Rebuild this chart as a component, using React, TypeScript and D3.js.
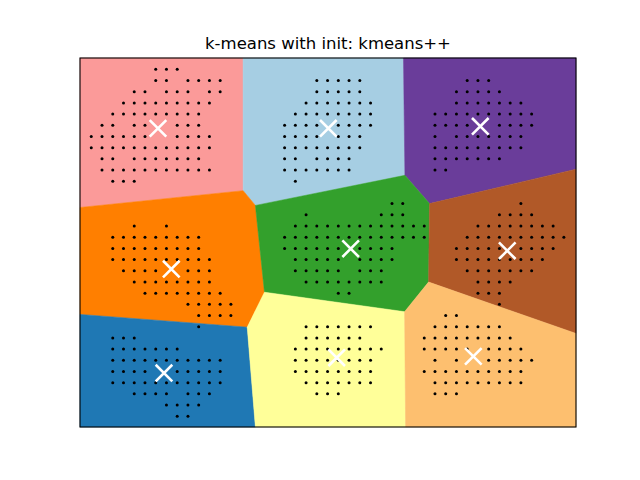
import React, { useRef, useEffect } from "react";
import * as d3 from "d3";

/* Cluster centres (x, y in data units) and the Paired colour of each region */
const centroidX = [6.21, 22.07, 36.22, 7.45, 24.15, 38.73, 6.77, 22.85, 35.57];
const centroidY = [5.28, 5.27, 5.09, 17.85, 16.03, 16.21, 27.14, 25.77, 25.65];
const regionColors = [
  "#fb9a99",
  "#a6cee3",
  "#6a3d9a",
  "#ff7f00",
  "#33a02c",
  "#b15928",
  "#1f78b4",
  "#ffff99",
  "#fdbf6f",
];

/* Reduced data points: for each row (y value) the x values that hold a point */
const dotRowY = [
  0, 1, 2, 3, 4, 5, 6, 7, 8, 9, 10, 12, 13, 14, 15, 16, 17, 18, 19, 20, 21, 22,
  23, 24, 25, 26, 27, 28, 29, 30, 31,
];
const dotRowX = [
  [6, 7, 8],
  [6, 7, 9, 10, 11, 12, 21, 22, 23, 24, 25, 35, 36, 37],
  [4, 5, 7, 8, 9, 11, 12, 21, 22, 23, 24, 25, 34, 35, 36, 37, 38],
  [3, 4, 5, 6, 7, 8, 9, 10, 11, 20, 21, 22, 23, 24, 25, 26, 34, 35, 36, 37, 38, 39, 40],
  [2, 3, 4, 5, 6, 7, 8, 9, 10, 19, 20, 21, 22, 23, 24, 25, 26, 32, 33, 34, 35, 36, 37, 38, 39, 40, 41],
  [1, 2, 4, 5, 8, 9, 10, 18, 19, 20, 21, 23, 24, 25, 26, 32, 33, 34, 35, 38, 39, 40, 41],
  [0, 1, 2, 3, 4, 5, 8, 9, 10, 11, 18, 19, 20, 21, 23, 24, 25, 32, 34, 35, 36, 37, 38, 39, 40],
  [0, 1, 2, 3, 4, 5, 6, 7, 8, 9, 10, 11, 18, 19, 20, 21, 22, 23, 24, 25, 32, 33, 34, 35, 36, 37, 38, 39, 40],
  [1, 2, 4, 5, 6, 7, 8, 9, 10, 18, 19, 21, 22, 23, 24, 32, 33, 34, 35, 36, 37, 38],
  [1, 2, 3, 4, 5, 6, 7, 8, 9, 10, 11, 18, 19, 20, 21, 22, 23, 24, 32, 33],
  [2, 3, 4, 19],
  [28, 29, 40],
  [20, 27, 28, 29, 38, 39, 40, 41],
  [4, 7, 19, 20, 21, 22, 23, 24, 25, 26, 27, 28, 29, 30, 31, 36, 37, 38, 39, 40, 41, 42, 43],
  [2, 3, 4, 5, 6, 7, 8, 9, 10, 18, 19, 20, 21, 22, 23, 24, 25, 26, 27, 28, 29, 30, 31, 35, 36, 37, 38, 39, 40, 41, 42, 43, 44],
  [2, 3, 4, 5, 6, 7, 8, 9, 10, 18, 19, 20, 21, 22, 23, 25, 26, 27, 28, 34, 35, 36, 37, 38, 40, 41, 42, 43],
  [2, 3, 4, 5, 6, 7, 8, 9, 10, 11, 19, 20, 21, 22, 23, 25, 26, 27, 28, 34, 35, 36, 37, 38, 39, 40, 41, 42],
  [3, 4, 5, 6, 9, 10, 11, 19, 20, 21, 22, 23, 25, 26, 27, 35, 36, 37, 38, 39, 40, 41],
  [4, 5, 6, 7, 8, 9, 10, 11, 20, 21, 22, 23, 24, 25, 26, 27, 36, 37, 38, 39],
  [5, 6, 7, 8, 9, 10, 11, 12, 23, 24, 36, 37, 38],
  [9, 10, 11, 12, 13, 38],
  [10, 11, 12, 13, 33, 34],
  [10, 20, 21, 22, 23, 24, 25, 26, 32, 33, 34, 35, 36, 37, 38],
  [2, 3, 4, 20, 21, 22, 23, 24, 25, 31, 32, 33, 34, 35, 36, 37, 38, 39],
  [2, 3, 4, 5, 6, 7, 8, 19, 20, 21, 22, 23, 24, 25, 26, 27, 31, 32, 33, 34, 35, 37, 38, 39, 40],
  [2, 3, 4, 5, 6, 7, 8, 9, 10, 11, 12, 19, 20, 21, 22, 23, 24, 25, 26, 32, 34, 37, 38, 39, 40, 41],
  [2, 3, 4, 5, 8, 9, 10, 11, 12, 19, 20, 21, 22, 23, 24, 25, 26, 31, 32, 33, 34, 35, 36, 37, 38, 39, 40],
  [2, 3, 4, 5, 6, 7, 8, 9, 10, 11, 12, 20, 21, 22, 23, 24, 25, 26, 32, 33, 34, 35, 36, 37, 38, 39, 40],
  [4, 5, 6, 7, 9, 10, 11, 21, 22, 23, 32, 33, 34],
  [7, 8, 9, 10],
  [8, 9],
];

const xDomain = [-1.05, 45.13];
const yDomain = [-1.01, 31.96];
const title = "k-means with init: kmeans++";

const App = () => {
  const svgRef = useRef(null);

  const drawChart = () => {
    const width = 640;
    const height = 480;
    const margin = { top: 58, right: 64, bottom: 53, left: 80 };

    d3.select(svgRef.current).selectAll("*").remove();
    const svg = d3
      .select(svgRef.current)
      .attr("width", width)
      .attr("height", height)
      .style("background", "white");

    const x = d3
      .scaleLinear()
      .domain(xDomain)
      .range([margin.left, width - margin.right]);
    const y = d3
      .scaleLinear()
      .domain(yDomain)
      .range([margin.top, height - margin.bottom]);

    /* Decision regions: voronoi cells of the centres, in data space */
    const centres = centroidX.map((cx, i) => [cx, centroidY[i]]);
    const voronoi = d3.Delaunay.from(centres).voronoi([
      xDomain[0],
      yDomain[0],
      xDomain[1],
      yDomain[1],
    ]);

    svg
      .append("g")
      .selectAll("path")
      .data(centres)
      .enter()
      .append("path")
      .attr("d", (d, i) => {
        const poly = voronoi.cellPolygon(i);
        return "M" + poly.map((p) => `${x(p[0])},${y(p[1])}`).join("L") + "Z";
      })
      .attr("fill", (d, i) => regionColors[i])
      .attr("stroke", (d, i) => regionColors[i])
      .attr("stroke-width", 0.5);

    /* Data points */
    const dots = [];
    dotRowX.forEach((row, r) => {
      row.forEach((v) => dots.push([v, dotRowY[r]]));
    });

    svg
      .append("g")
      .selectAll("circle")
      .data(dots)
      .enter()
      .append("circle")
      .attr("cx", (d) => x(d[0]))
      .attr("cy", (d) => y(d[1]))
      .attr("r", 1.5)
      .attr("fill", "black");

    /* Centroid markers */
    const s = 8.3;
    const marks = svg
      .append("g")
      .selectAll("g")
      .data(centres)
      .enter()
      .append("g")
      .attr("transform", (d) => `translate(${x(d[0])},${y(d[1])})`);
    marks
      .append("path")
      .attr("d", `M${-s},${-s}L${s},${s}M${-s},${s}L${s},${-s}`)
      .attr("stroke", "white")
      .attr("stroke-width", 2.6)
      .attr("fill", "none");

    /* Axes frame */
    svg
      .append("rect")
      .attr("x", margin.left)
      .attr("y", margin.top)
      .attr("width", width - margin.left - margin.right)
      .attr("height", height - margin.top - margin.bottom)
      .attr("fill", "none")
      .attr("stroke", "black")
      .attr("stroke-width", 1.1);

    /* Title */
    svg
      .append("text")
      .attr("x", (margin.left + width - margin.right) / 2)
      .attr("y", 49)
      .attr("text-anchor", "middle")
      .style("font-family", "DejaVu Sans")
      .style("font-size", "16.5px")
      .text(title);
  };

  useEffect(() => {
    drawChart();
  }, []);

  return (
    <div style={{ position: "absolute", left: 0, top: 0 }}>
      <svg ref={svgRef} style={{ display: "block" }} />
    </div>
  );
};

export default App;
